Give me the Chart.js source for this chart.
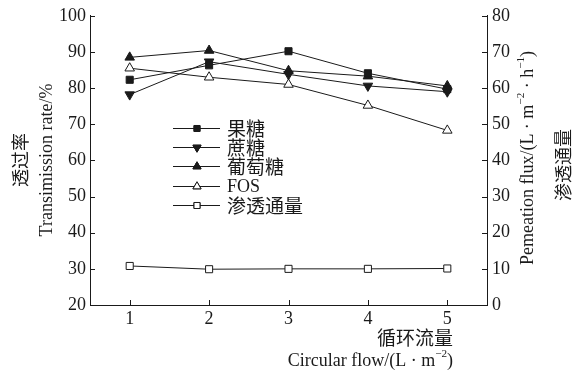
<!DOCTYPE html>
<html>
<head>
<meta charset="utf-8">
<script src="https://cdn.jsdelivr.net/npm/chart.js@4/dist/chart.umd.min.js"></script>
<style>
  html, body { margin: 0; padding: 0; background: #fff; }
  #wrap { width: 583px; height: 373px; }
</style>
</head>
<body>
<div id="wrap"><canvas id="c" width="583" height="373"></canvas></div>
<script>
// Circulation flow levels (x axis)
const categories = ['1', '2', '3', '4', '5'];

// Transmission rate (%) of each sugar — left axis
const fructose = [82.3, 86.3, 90.2, 84.1, 79.7];
const sucrose  = [78.2, 87.3, 83.8, 80.6, 79.0];
const glucose  = [88.5, 90.4, 84.8, 83.3, 80.6];
const fos      = [85.5, 83.0, 81.0, 75.2, 68.3];

// Permeation flux (L·m⁻²·h⁻¹) — right axis
const flux = [10.8, 9.9, 10.0, 10.0, 10.1];

// Axis tick values
const leftTicks  = [20, 30, 40, 50, 60, 70, 80, 90, 100];
const rightTicks = [0, 10, 20, 30, 40, 50, 60, 70, 80];

const INK = '#1a1a1a';
const SERIF = '"Liberation Serif", "DejaVu Serif", serif';
const CJK = '"Noto Sans CJK SC", "Noto Sans", sans-serif';

const series = [
  { label: '果糖',   data: fructose, axis: 'y',  style: 'rect',     rot: 0,   fill: INK,    r: 5 },
  { label: '蔗糖',   data: sucrose,  axis: 'y',  style: 'triangle', rot: 180, fill: INK,    r: 5.5 },
  { label: '葡萄糖', data: glucose,  axis: 'y',  style: 'triangle', rot: 0,   fill: INK,    r: 5.5 },
  { label: 'FOS',    data: fos,      axis: 'y',  style: 'triangle', rot: 0,   fill: '#fff', r: 5.5 },
  { label: '渗透通量', data: flux,   axis: 'y1', style: 'rect',     rot: 0,   fill: '#fff', r: 5 }
];

const datasets = series.map(s => ({
  label: s.label,
  data: s.data,
  yAxisID: s.axis,
  borderColor: INK,
  borderWidth: 1,
  backgroundColor: s.fill,
  pointStyle: s.style,
  pointRotation: s.rot,
  pointRadius: s.r,
  pointHoverRadius: s.r,
  pointBackgroundColor: s.fill,
  pointBorderColor: INK,
  pointBorderWidth: 1,
  tension: 0,
  fill: false
}));

// Draws text made of plain and superscript segments starting at (x, y), left aligned.
function richText(ctx, parts, x, y, size) {
  let cx = x;
  parts.forEach(p => {
    const fs = p.sup ? size * 0.62 : size;
    ctx.font = fs + 'px ' + SERIF;
    ctx.fillText(p.t, cx, p.sup ? y - size * 0.38 : y);
    cx += ctx.measureText(p.t).width;
  });
}
function richWidth(ctx, parts, size) {
  let w = 0;
  parts.forEach(p => {
    ctx.font = (p.sup ? size * 0.62 : size) + 'px ' + SERIF;
    w += ctx.measureText(p.t).width;
  });
  return w;
}

// Inward tick marks, axis titles and the in-plot legend
const decorations = {
  id: 'decorations',
  afterDraw(chart) {
    const ctx = chart.ctx;
    const a = chart.chartArea;
    const y = chart.scales.y, y1 = chart.scales.y1, x = chart.scales.x;
    ctx.save();
    ctx.strokeStyle = INK;
    ctx.lineWidth = 1;
    ctx.beginPath();
    leftTicks.forEach(v => {
      const py = Math.round(y.getPixelForValue(v)) + 0.5;
      ctx.moveTo(a.left, py); ctx.lineTo(a.left + 5, py);
    });
    rightTicks.forEach(v => {
      const py = Math.round(y1.getPixelForValue(v)) + 0.5;
      ctx.moveTo(a.right, py); ctx.lineTo(a.right - 5, py);
    });
    categories.forEach((c, i) => {
      const px = Math.round(x.getPixelForValue(i)) + 0.5;
      ctx.moveTo(px, a.bottom); ctx.lineTo(px, a.bottom - 5);
    });
    ctx.stroke();

    ctx.fillStyle = INK;
    ctx.textBaseline = 'middle';

    // Left axis title (reads bottom to top)
    ctx.save();
    ctx.translate(20, 160);
    ctx.rotate(-Math.PI / 2);
    ctx.textAlign = 'center';
    ctx.font = '18px ' + CJK;
    ctx.fillText('透过率', 0, 0);
    ctx.font = '18px ' + SERIF;
    ctx.fillText('Transimission rate/%', 0, 27);
    ctx.restore();

    // Right axis title (also reads bottom to top)
    ctx.save();
    ctx.translate(528, 158);
    ctx.rotate(-Math.PI / 2);
    const fluxParts = [
      { t: 'Pemeation flux/(L · m' }, { t: '−2', sup: true },
      { t: ' · h' }, { t: '−1', sup: true }, { t: ')' }
    ];
    ctx.textAlign = 'left';
    richText(ctx, fluxParts, -richWidth(ctx, fluxParts, 18) / 2, 0, 18);
    ctx.textAlign = 'center';
    ctx.font = '18px ' + CJK;
    ctx.fillText('渗透通量', -7, 35);
    ctx.restore();

    // X axis title, right aligned under the last category
    ctx.textAlign = 'right';
    ctx.font = '19px ' + CJK;
    ctx.fillText('循环流量', 453, 338);
    const flowParts = [{ t: 'Circular flow/(L · m' }, { t: '−2', sup: true }, { t: ')' }];
    ctx.textAlign = 'left';
    richText(ctx, flowParts, 453 - richWidth(ctx, flowParts, 18), 361, 18);

    // Legend
    series.forEach((s, i) => {
      const ry = Math.round(128 + 19.2 * i) + 0.5;
      ctx.beginPath();
      ctx.moveTo(173, ry); ctx.lineTo(220, ry);
      ctx.stroke();
      ctx.fillStyle = s.fill;
      Chart.helpers.drawPoint(ctx, { pointStyle: s.style, rotation: s.rot, radius: s.r * 0.85, borderWidth: 1 }, 197, ry);
      ctx.fill();
      ctx.stroke();
      ctx.fillStyle = INK;
      ctx.textAlign = 'left';
      ctx.font = s.label === 'FOS' ? '18px ' + SERIF : '19px ' + CJK;
      ctx.fillText(s.label, 227, ry + 0.5);
    });
    ctx.restore();
  }
};

new Chart(document.getElementById('c'), {
  type: 'line',
  data: { labels: categories, datasets },
  options: {
    responsive: false,
    animation: false,
    events: [],
    layout: { padding: { top: 14, left: 0, right: 0, bottom: 0 } },
    plugins: { legend: { display: false }, tooltip: { enabled: false } },
    scales: {
      x: {
        type: 'category',
        offset: true,
        grid: { display: false, drawTicks: false },
        border: { color: INK, width: 1 },
        ticks: { color: INK, font: { family: SERIF, size: 18 }, padding: 3 },
        afterFit(s) { s.height = 373 - 305; }
      },
      y: {
        position: 'left',
        min: 20, max: 100,
        grid: { display: false, drawTicks: false },
        border: { color: INK, width: 1 },
        ticks: { stepSize: 10, color: INK, font: { family: SERIF, size: 18 }, padding: 4 },
        afterFit(s) { s.width = 90; }
      },
      y1: {
        position: 'right',
        min: 0, max: 80,
        grid: { display: false, drawTicks: false },
        border: { color: INK, width: 1 },
        ticks: { stepSize: 10, color: INK, font: { family: SERIF, size: 18 }, padding: 5 },
        afterFit(s) { s.width = 583 - 487; }
      }
    }
  },
  plugins: [decorations]
});
</script>
</body>
</html>
